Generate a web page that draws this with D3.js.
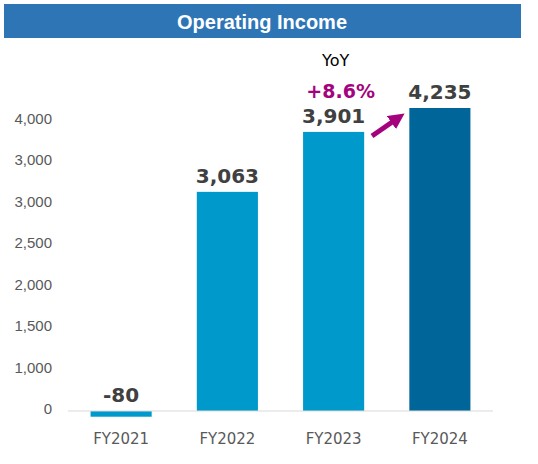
<!DOCTYPE html>
<html><head><meta charset="utf-8">
<script src="https://cdn.jsdelivr.net/npm/d3@7"></script>
<style>body{margin:0;background:#fff;}</style>
</head><body>
<svg id="c" width="538" height="464"></svg>
<script>
const title = "Operating Income";
const categories = ["FY2021","FY2022","FY2023","FY2024"];
const values = [-80, 3063, 3901, 4235];
const valueLabels = ["-80","3,063","3,901","4,235"];
const tickLabels = ["0","1,000","1,500","2,000","2,500","3,000","3,000","4,000"];
const yoyLabel = "YoY";
const yoyValue = "+8.6%";
const barColors = ["#0099CC","#0099CC","#0099CC","#006699"];

const svg = d3.select("#c");
svg.append("rect").attr("x",4).attr("y",4).attr("width",517).attr("height",34).attr("fill","#2E75B6");
svg.append("text").attr("x",262).attr("y",29).attr("text-anchor","middle")
  .attr("font-family","Liberation Sans, Arial, sans-serif").attr("font-weight","bold")
  .attr("font-size",20).attr("fill","#fff").text(title);

const x = d3.scaleBand().domain(categories).range([68,493]).paddingInner(0.425).paddingOuter(0.2125);
const y = d3.scaleLinear().domain([0,4235]).range([411,108]);
const yt = d3.scalePoint().domain(d3.range(tickLabels.length)).range([409,119]);

// tick labels
svg.append("g").selectAll("text").data(tickLabels).join("text")
  .attr("x",52).attr("y",(d,i)=>yt(i)+5).attr("text-anchor","end")
  .attr("font-family","Liberation Sans, Arial, sans-serif").attr("font-size",15).attr("fill","#595959")
  .text(d=>d);

// bars
svg.append("g").selectAll("rect").data(values).join("rect")
  .attr("x",(d,i)=>x(categories[i])).attr("width",x.bandwidth())
  .attr("y",d=>Math.min(y(d),y(0))).attr("height",d=>Math.abs(y(d)-y(0)))
  .attr("fill",(d,i)=>barColors[i]);

// baseline
svg.append("line").attr("x1",68).attr("x2",493).attr("y1",y(0)).attr("y2",y(0))
  .attr("stroke","#D9D9D9").attr("stroke-width",1);

// value labels
svg.append("g").selectAll("text").data(values).join("text")
  .attr("x",(d,i)=>x(categories[i])+x.bandwidth()/2)
  .attr("y",d=>(d<0?y(0):y(d))-9).attr("text-anchor","middle")
  .attr("font-family","DejaVu Sans, Verdana, sans-serif").attr("font-weight","bold")
  .attr("font-size",20).attr("fill","#404040").text((d,i)=>valueLabels[i]);

// category labels
svg.append("g").selectAll("text").data(categories).join("text")
  .attr("x",d=>x(d)+x.bandwidth()/2).attr("y",444).attr("text-anchor","middle")
  .attr("font-family","DejaVu Sans, Verdana, sans-serif").attr("font-size",15).attr("fill","#595959")
  .text(d=>d);

// YoY
const cx3 = x(categories[2])+x.bandwidth()/2;
svg.append("text").attr("x",cx3+2).attr("y",66).attr("text-anchor","middle")
  .attr("font-family","DejaVu Sans, Verdana, sans-serif").attr("font-size",16).attr("fill","#000").text(yoyLabel);
svg.append("text").attr("x",cx3+7).attr("y",98).attr("text-anchor","middle")
  .attr("font-family","DejaVu Sans, Verdana, sans-serif").attr("font-weight","bold")
  .attr("font-size",19).attr("fill","#A5027D").text(yoyValue);

// arrow
const defs = svg.append("defs");
defs.append("marker").attr("id","ah").attr("viewBox","0 0 10 10").attr("refX",5).attr("refY",5)
  .attr("markerWidth",3.2).attr("markerHeight",3.2).attr("orient","auto")
  .append("path").attr("d","M0,0 L10,5 L0,10 z").attr("fill","#A5027D");
svg.append("line").attr("x1",372).attr("y1",136).attr("x2",398).attr("y2",118)
  .attr("stroke","#A5027D").attr("stroke-width",5).attr("marker-end","url(#ah)");
</script>
</body></html>
